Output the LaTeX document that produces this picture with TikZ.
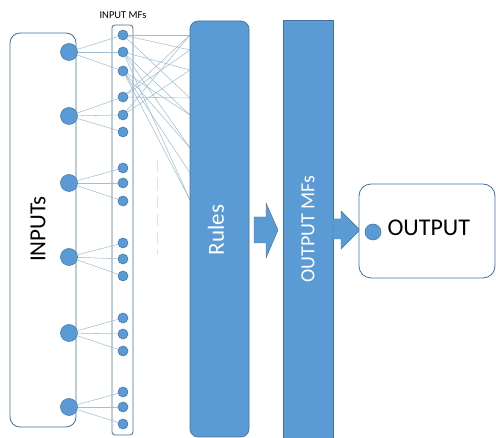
\documentclass[tikz,border=0pt]{standalone}
\usepackage{fontspec}
\setmainfont{Carlito}
\definecolor{fillblue}{HTML}{5B9BD5}
\definecolor{edgeblue}{HTML}{41719C}
\definecolor{wireblue}{RGB}{160,190,212}
\begin{document}
\begin{tikzpicture}[x=1pt,y=-1pt,
  bigdot/.style={circle,fill=fillblue,draw=edgeblue,line width=0.5pt,minimum size=17pt,inner sep=0pt},
  mfdot/.style={circle,fill=fillblue,draw=edgeblue,line width=0.5pt,minimum size=10pt,inner sep=0pt},
  wire/.style={draw=wireblue,line width=0.55pt},
  outline/.style={draw=edgeblue,line width=0.8pt,fill=white},
  bluebar/.style={fill=fillblue,draw=edgeblue,line width=0.6pt},
  blockarrow/.style={fill=fillblue,draw=edgeblue,line width=0.4pt}]
\useasboundingbox (0,0) rectangle (496,438);
% boxes
\draw[outline,rounded corners=10pt] (10,33) rectangle (76,427);
\draw[outline,rounded corners=3pt] (112,25) rectangle (133,435);
\node[font=\fontsize{10.5}{12}\selectfont] (mflabel) at (123,15) {INPUT MFs};
\node[rotate=90,font=\fontsize{23}{25}\selectfont] (inputs) at (38,229) {INPUTs};
% dashed line
\draw[draw=black!12,line width=1pt,dash pattern=on 12pt off 6pt] (157,160) coordinate (d1) -- (157,255) coordinate (d2);
% input dots
\foreach \i/\y in {1/52,2/116,3/183,4/257,5/333,6/407}{
  \node[bigdot] (in\i) at (69,\y) {};
}
% MF dots
\foreach \i/\y in {1/35,2/52,3/71,4/97,5/115,6/132,7/168,8/183,9/201,10/243,11/259,12/276,13/318,14/334,15/351,16/392,17/407,18/424}{
  \node[mfdot] (mf\i) at (123,\y) {};
}
% input -> MF wires
\foreach \i/\a/\b/\c in {1/1/2/3,2/4/5/6,3/7/8/9,4/10/11/12,5/13/14/15,6/16/17/18}{
  \draw[wire] (in\i) -- (mf\a);
  \draw[wire] (in\i) -- (mf\b);
  \draw[wire] (in\i) -- (mf\c);
}
% rule-edge coordinates
\foreach \k/\y in {1/35,2/50,3/70,4/98,5/115,6/148,7/173,8/200}{
  \coordinate (r\k) at (190,\y);
}
% MF -> rules wires
\foreach \m/\r in {1/1,1/2,1/4,2/3,2/5,2/6,2/8,3/6,3/7,3/8,4/1,4/2,4/4,5/1,5/3,3/5}{
  \draw[wire] (mf\m) -- (r\r);
}
% Rules bar
\draw[bluebar,rounded corners=8pt] (190,21) rectangle (249,437);
\node[rotate=90,text=white,font=\fontsize{23}{25}\selectfont] (rules) at (216,230) {Rules};
% Output MFs bar
\draw[bluebar] (283,20) rectangle (333,440);
\node[rotate=90,text=white,font=\fontsize{20}{22}\selectfont] (omfs) at (308,229) {OUTPUT MFs};
% block arrows
\draw[blockarrow] (254,217) -- (266,217) -- (266,203) -- (278,230) -- (266,258) -- (266,243) -- (254,243) -- cycle;
\draw[blockarrow] (333,219) -- (341,219) -- (341,211) -- (360,230) -- (341,249) -- (341,239) -- (333,239) -- cycle;
% Output box
\draw[outline,rounded corners=12pt] (359,184) rectangle (495,278);
\node[mfdot,minimum size=16pt] (outdot) at (373,232) {};
\node[anchor=west,font=\fontsize{24}{26}\selectfont] (outtext) at (384,228) {OUTPUT};
\end{tikzpicture}
\end{document}
